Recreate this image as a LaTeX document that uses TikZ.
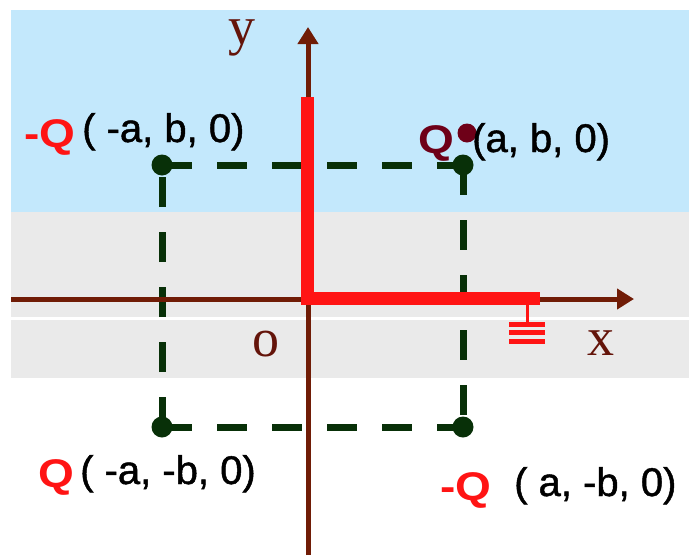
\documentclass[tikz,border=0pt]{standalone}
\usepackage{fontspec}
\setmainfont{Liberation Sans}
\newfontfamily\axisfont{Liberation Serif}
\newfontfamily\qfont[FakeStretch=1.15]{Liberation Sans}
\newfontfamily\coordfont[FakeBold=1.2]{Liberation Sans}
\usepackage{xcolor}
\definecolor{skyband}{RGB}{195,232,252}
\definecolor{greyband}{RGB}{234,234,234}
\definecolor{axisbrown}{RGB}{112,28,6}
\definecolor{darkgreen}{RGB}{8,48,8}
\definecolor{chargered}{RGB}{255,20,20}
\definecolor{darkmaroon}{RGB}{110,0,24}
\definecolor{labelbrown}{RGB}{100,20,10}
\usetikzlibrary{arrows.meta,positioning}
\tikzset{
	corner/.style   = {circle,fill=darkgreen,minimum size=21pt,inner sep=0pt},
	sidedash/.style = {darkgreen,line width=7pt,dash pattern=on 30pt off 25pt},
	axisline/.style = {axisbrown,line width=5pt,
		-{Triangle[width=20pt,length=17pt]}},
	rodline/.style  = {chargered,line width=13pt,line join=miter},
	coordtxt/.style = {font=\coordfont\fontsize{40}{40}\selectfont,
		anchor=base west,inner sep=0pt},
	qlabel/.style   = {font=\qfont\bfseries\fontsize{40}{40}\selectfont,
		text=chargered,anchor=base west,inner sep=0pt},
	axislabel/.style= {font=\axisfont\fontsize{54}{54}\selectfont,
		text=labelbrown,anchor=base west,inner sep=0pt},
}

\begin{document}
\begin{tikzpicture}[x=1pt,y=-1pt]
	\useasboundingbox (0,0) rectangle (689,555);
	
	%% background bands
	\fill[skyband] (11,10) rectangle (689,212);
	\fill[greyband] (11,212) rectangle (689,317);
	\fill[greyband] (11,320) rectangle (689,378);
	
	%% charges at the corners
	\node (tl) [corner] at (162,165) {};
	\node (tr) [corner] at (463,165) {};
	\node (bl) [corner] at (162,427) {};
	\node (br) [corner] at (463,427) {};
	
	\draw[sidedash] (tl.center) -- (tr.center);
	\draw[sidedash] (tr.center) -- (br.center);
	\draw[sidedash] (bl.center) -- (br.center);
	\draw[sidedash] (bl.center) -- (tl.center);
	
	%% axes
	\coordinate (xl) at (11,299);
	\coordinate (xr) at (634,299);
	\coordinate (yb) at (308,555);
	\coordinate (yt) at (308,27);
	\draw[axisline] (xl) -- (xr);
	\draw[axisline] (yb) -- (yt);
	
	%% conducting rod, grounded
	\coordinate (rtop) at (307.5,97);
	\coordinate (rbend) at (307.5,298);
	\coordinate (rend) at (540,298);
	\draw[rodline] (rtop) -- (rbend) -- (rend);
	\coordinate (gtop) at (527,304);
	\coordinate (gbot) at (527,324);
	\draw[chargered,line width=3pt] (gtop) -- (gbot);
	\foreach \gy in {324,332,341}
		\draw[chargered,line width=5pt] (509,\gy) -- (545,\gy);
	
	\node (ylab) [axislabel] at (228,44) {y};
	\node (xlab) [axislabel] at (587,355) {x};
	\node (olab) [axislabel] at (252,356) {o};
	
	%% labels
	\node (qtl) [qlabel] at (24,147) {-Q};
	\node (ctl) [coordtxt] at (82,142) {( -a, b, 0)};
	\node (qtr) [qlabel,text=darkmaroon] at (418,153) {Q};
	\node (ptr) [circle,fill=darkmaroon,minimum size=19pt,inner sep=0pt]
		at (467,133) {};
	\node (ctr) [coordtxt] at (472,152) {(a, b, 0)};
	\node (qbl) [qlabel] at (38,487) {Q};
	\node (cbl) [coordtxt] at (80,484) {( -a, -b, 0)};
	\node (qbr) [qlabel] at (440,500) {-Q};
	\node (cbr) [coordtxt] at (514,496) {( a, -b, 0)};
\end{tikzpicture}
\end{document}
